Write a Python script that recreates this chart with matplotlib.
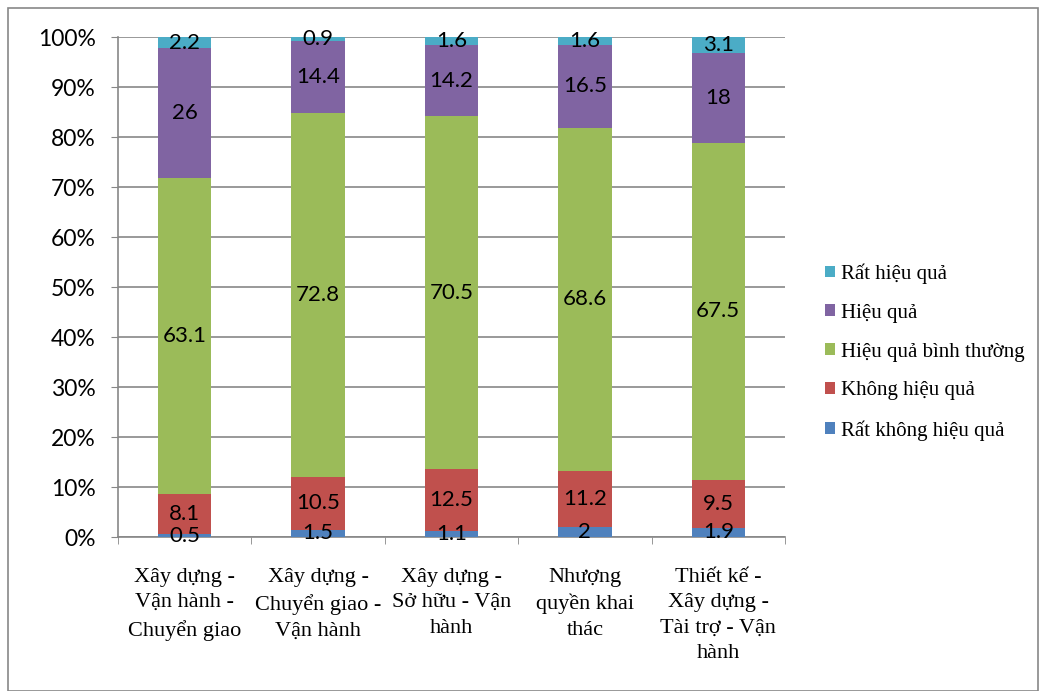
import matplotlib.pyplot as plt
import numpy as np
from matplotlib.patches import Rectangle

# data
categories = ["Xây dựng -\nVận hành -\nChuyển giao",
              "Xây dựng -\nChuyển giao -\nVận hành",
              "Xây dựng -\nSở hữu - Vận\nhành",
              "Nhượng\nquyền khai\nthác",
              "Thiết kế -\nXây dựng -\nTài trợ - Vận\nhành"]
series_names = ["Rất không hiệu quả", "Không hiệu quả", "Hiệu quả bình thường",
                "Hiệu quả", "Rất hiệu quả"]
rat_khong = [0.5, 1.5, 1.1, 2, 1.9]
khong = [8.1, 10.5, 12.5, 11.2, 9.5]
binh_thuong = [63.1, 72.8, 70.5, 68.6, 67.5]
hieu_qua = [26, 14.4, 14.2, 16.5, 18]
rat_hieu_qua = [2.2, 0.9, 1.6, 1.6, 3.1]
colors = ['#4F81BD', '#C0504D', '#9BBB59', '#8064A2', '#4BACC6']

values = np.array([rat_khong, khong, binh_thuong, hieu_qua, rat_hieu_qua], dtype=float)
shares = values / values.sum(axis=0) * 100

fig = plt.figure(figsize=(10.4, 6.91), dpi=100)
ax = fig.add_axes([118 / 1040, 1 - 537 / 691, 667 / 1040, 500 / 691])

# outer chart frame
fig.patches.append(Rectangle((8 / 1040, 0), 1030 / 1040, 683 / 691, transform=fig.transFigure,
                             fill=False, edgecolor='#878787', linewidth=1.2))

x = np.arange(len(categories))
bottom = np.zeros(len(categories))
for i, name in enumerate(series_names):
    ax.bar(x, shares[i], 0.4, bottom=bottom, color=colors[i], label=name, zorder=3)
    for j in range(len(categories)):
        ax.text(x[j], bottom[j] + shares[i][j] / 2, f"{values[i][j]:g}",
                ha='center', va='center', fontsize=16, family='Lato', zorder=4)
    bottom += shares[i]

ax.set_xlim(-0.5, len(categories) - 0.5)
ax.set_ylim(0, 100)
ax.set_yticks(np.arange(0, 101, 10))
ax.set_yticklabels([f"{v}%" for v in range(0, 101, 10)], fontsize=16.5, family='Lato')
ax.set_xticks(x)
ax.set_xticklabels(categories, fontsize=16, family='Liberation Serif', linespacing=1.47)
ax.set_xticks(np.arange(-0.5, len(categories)), minor=True)
ax.tick_params(axis='x', which='major', length=0, pad=22)
ax.tick_params(axis='x', which='minor', length=5, color='#878787')
ax.tick_params(axis='y', length=5, color='#878787', pad=11)
ax.grid(axis='y', color='#878787', linewidth=1.2, zorder=0)
for s in ['top', 'right']:
    ax.spines[s].set_visible(False)
for s in ['left', 'bottom']:
    ax.spines[s].set_color('#878787')
    ax.spines[s].set_linewidth(1.2)

handles, labels = ax.get_legend_handles_labels()
ax.legend(handles[::-1], labels[::-1], loc='center left', bbox_to_anchor=(1.06, 0.37),
          frameon=False, prop={'family': 'Liberation Serif', 'size': 15},
          borderpad=0, borderaxespad=0,
          handlelength=0.5, handleheight=0.5, handletextpad=0.25, labelspacing=0.95)

fig.savefig('out.png', dpi=100)
